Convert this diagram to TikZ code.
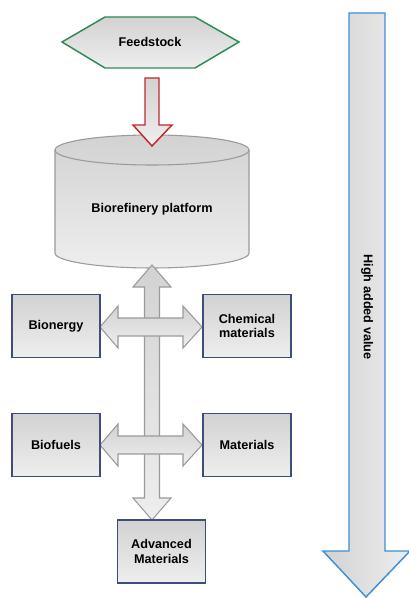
\documentclass[tikz,border=0pt]{standalone}
\usepackage{fontspec}
\setmainfont{Liberation Sans}
\definecolor{boxblue}{HTML}{3B4F7A}
\definecolor{leafgreen}{HTML}{2E8B57}
\definecolor{arrowred}{HTML}{C0282D}
\definecolor{skyblue}{HTML}{3D8FD6}
\definecolor{lightfill}{HTML}{EEEEEE}
\definecolor{darkfill}{HTML}{D2D2D2}
\definecolor{rimgray}{HTML}{9A9A9A}
\begin{document}
\begin{tikzpicture}[x=0.75pt,y=-0.75pt,
	labelfont/.style={font=\fontsize{9.5}{11}\selectfont\bfseries, align=center},
	shadefill/.style={top color=darkfill, bottom color=lightfill},
	outputnode/.style={rectangle,draw=boxblue,line width=1.1pt,shadefill,labelfont, minimum width=66pt, minimum height=47pt},
	flowarrow/.style={draw=rimgray,line width=0.8pt,shadefill,line join=miter}
]
\useasboundingbox (0,0) rectangle (409,598);

% Feedstock
\draw[draw=leafgreen,line width=1.1pt,shadefill] (62,42) -- (105,17) -- (195,17) -- (239,42) -- (195,68) -- (105,68) -- cycle;
\node[labelfont] (feed) at (150,42) {Feedstock};

% Plattform
\draw[draw=rimgray,line width=0.8pt,shadefill] (55,150) -- (55,253) arc[start angle=180,end angle=0,x radius=97,y radius=15] -- (249,150) arc[start angle=0,end angle=-180,x radius=97,y radius=15] -- cycle;
\draw[draw=rimgray,line width=0.8pt] (55,150) arc[start angle=180,end angle=0,x radius=97,y radius=15];
\node[labelfont] (platform) at (152,209) {Biorefinery platform};

\draw[draw=arrowred,line width=1.1pt,shadefill] (145,78) -- (159,78) -- (159,125) -- (172,125) -- (152,146) -- (133,125) -- (145,125) -- cycle;

% Achse
\draw[flowarrow] (152,265) -- (171,287) -- (159.5,287) -- (159.5,498) -- (171,498) -- (152,520) -- (133,498) -- (144.5,498) -- (144.5,287) -- (133,287) -- cycle;
\foreach \cy in {327,445}
	\draw[flowarrow] (100,\cy) -- (118,\cy-21) -- (118,\cy-9) -- (183,\cy-9) -- (183,\cy-21) -- (202,\cy) -- (183,\cy+21) -- (183,\cy+9) -- (118,\cy+9) -- (118,\cy+21) -- cycle;

% Produkte
\node[outputnode] (bioenergy) at (56,326) {Bionergy};
\node[outputnode] (chemical) at (247,326) {Chemical\\materials};
\node[outputnode] (biofuels) at (56,445) {Biofuels};
\node[outputnode] (materials) at (247,445) {Materials};
\node[outputnode] (advanced) at (161.5,551.5) {Advanced\\Materials};

% Wert
\draw[draw=skyblue,line width=1.1pt,left color=darkfill,right color=lightfill] (349,13) -- (385,13) -- (385,551) -- (410,551) -- (366,597) -- (323,551) -- (349,551) -- cycle;
\node[labelfont,rotate=-90] (value) at (367,307) {High added value};

\end{tikzpicture}
\end{document}
